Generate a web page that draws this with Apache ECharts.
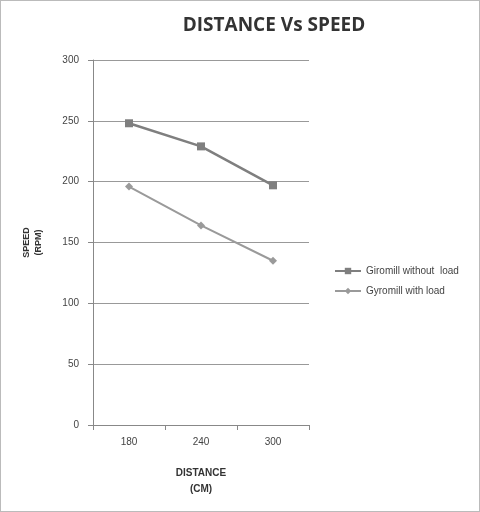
<!DOCTYPE html><html><head><meta charset="utf-8">
<script src="https://cdn.jsdelivr.net/npm/echarts@6/dist/echarts.min.js"></script>
<style>body{margin:0;background:#fff}#c{width:480px;height:512px;box-sizing:border-box;border:1px solid #bbb}</style>
</head><body><div id="c"></div><script>
const categories = ['180','240','300'];
const withoutLoad = [248, 229, 197];
const withLoad = [196, 164, 135];
const yTicks = [0,50,100,150,200,250,300];
const chart = echarts.init(document.getElementById('c'));
chart.setOption({
  animation:false,
  textStyle:{fontFamily:'Liberation Sans, Arial, sans-serif'},
  title:{text:'DISTANCE Vs SPEED',left:268,top:10,textAlign:'center',textStyle:{fontSize:19,fontWeight:'bold',color:'#333',fontFamily:'Open Sans'}},
  grid:{left:92,right:170,top:59,bottom:86},
  legend:{orient:'vertical',left:328,top:260,itemGap:10,itemWidth:26,itemHeight:8,textStyle:{fontSize:10,color:'#444'},data:['Giromill without  load','Gyromill with load']},
  xAxis:{type:'category',data:categories,boundaryGap:true,axisTick:{show:true,alignWithLabel:false,length:5,lineStyle:{color:'#888'}},axisLine:{lineStyle:{color:'#888'}},axisLabel:{color:'#444',fontSize:10,margin:12},
    name:'DISTANCE\n(CM)',nameLocation:'middle',nameGap:40,nameTextStyle:{fontWeight:'bold',fontSize:10,color:'#333',lineHeight:16}},
  yAxis:{type:'value',min:0,max:300,interval:50,axisLine:{show:true,lineStyle:{color:'#888'}},axisTick:{show:true,length:5,lineStyle:{color:'#888'}},axisLabel:{color:'#444',fontSize:10,margin:14},splitLine:{lineStyle:{color:'#999'}},
    name:'SPEED\n(RPM)',nameLocation:'middle',nameGap:48,nameTextStyle:{fontWeight:'bold',fontSize:9,color:'#333',lineHeight:12}},
  series:[
    {name:'Giromill without  load',type:'line',data:withoutLoad,symbol:'rect',symbolSize:8,lineStyle:{width:2.5,color:'#7f7f7f'},itemStyle:{color:'#7f7f7f'}},
    {name:'Gyromill with load',type:'line',data:withLoad,symbol:'diamond',symbolSize:8,lineStyle:{width:2,color:'#9a9a9a'},itemStyle:{color:'#9a9a9a'}}
  ]
});
</script></body></html>
